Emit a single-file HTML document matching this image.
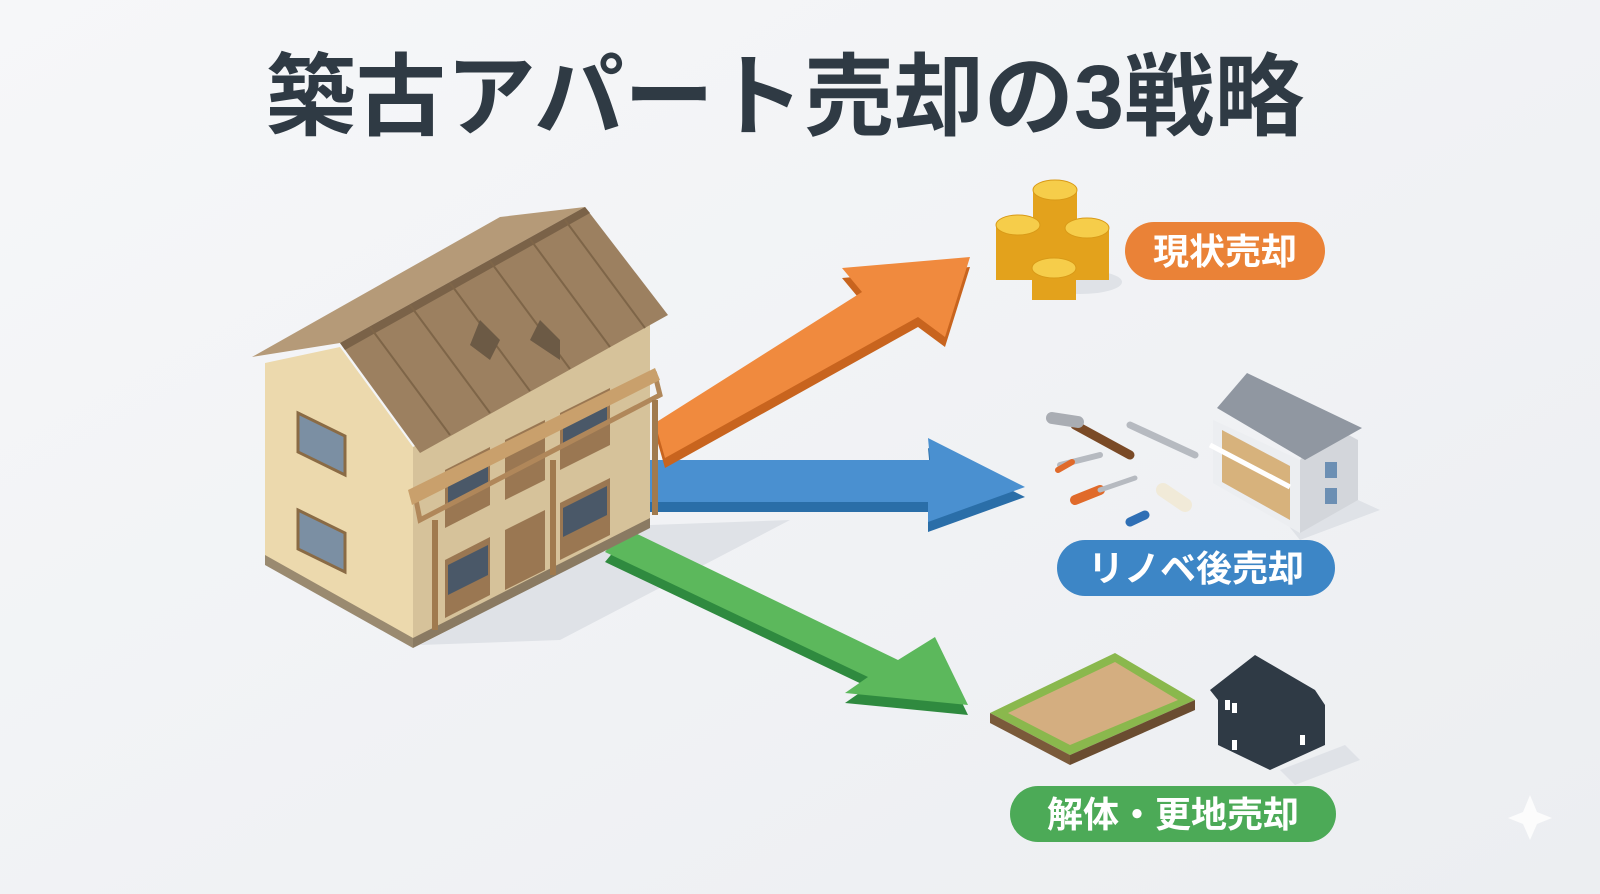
<!DOCTYPE html>
<html><head><meta charset="utf-8"><style>
html,body{margin:0;padding:0;width:1600px;height:894px;overflow:hidden;background:#f1f2f4;}
svg{position:absolute;left:0;top:0}
</style></head><body>
<svg width="1600" height="894" viewBox="0 0 1600 894" xmlns="http://www.w3.org/2000/svg">
<defs>
<linearGradient id="bg" x1="0" y1="0" x2="1" y2="1"><stop offset="0" stop-color="#f6f7f9"/><stop offset="1" stop-color="#eceef1"/></linearGradient>
<polygon id="ga" points="625,528 898,660 935,637 968,705 845,693 868,677 605,552"/>
<polygon id="ba" points="650,460 930,460 928,438 1025,487 928,522 928,502 650,502"/>
<polygon id="oa" points="655,423 862,292 842,268 970,257 945,337 918,317 665,458"/>
</defs>
<rect width="1600" height="894" fill="url(#bg)"/>
<text x="785" y="128" text-anchor="middle" font-family="'Liberation Sans','Noto Sans CJK JP',sans-serif" font-weight="700" font-size="90" fill="#2f3a44">築古アパート売却の3戦略</text>

<!-- shadows -->
<polygon points="420,645 650,525 790,520 560,640" fill="#dfe2e7"/>
<!-- green arrow -->
<use href="#ga" transform="translate(0,10)" fill="#2f8a3f"/>
<use href="#ga" fill="#5cb85c"/>
<!-- blue arrow -->
<use href="#ba" transform="translate(0,10)" fill="#2a6ea8"/>
<use href="#ba" fill="#4a90d0"/>
<!-- orange arrow -->
<use href="#oa" transform="translate(0,10)" fill="#c8641e"/>
<use href="#oa" fill="#f08a3e"/>

<!-- house -->
<polygon points="265,560 413,643 413,447 340,347 265,363" fill="#ecd9ad"/>
<polygon points="413,643 650,523 650,323 413,447" fill="#d6c29a"/>
<polygon points="265,555 413,638 413,648 265,565" fill="#9a8a70"/>
<polygon points="413,638 650,518 650,528 413,648" fill="#8a7a62"/>
<polygon points="298,413 345,436 345,475 298,452" fill="#7b8fa3" stroke="#8a6b45" stroke-width="3"/>
<polygon points="298,510 345,533 345,572 298,549" fill="#7b8fa3" stroke="#8a6b45" stroke-width="3"/>
<polygon points="445,470 490,447 490,505 445,528" fill="#9a7752"/>
<polygon points="505,440 545,420 545,480 505,500" fill="#9a7752"/>
<polygon points="560,413 610,388 610,445 560,470" fill="#9a7752"/>
<polygon points="445,560 490,537 490,595 445,618" fill="#9a7752"/>
<polygon points="505,530 545,510 545,570 505,590" fill="#9a7752"/>
<polygon points="560,503 610,478 610,535 560,560" fill="#9a7752"/>
<polygon points="448,475 488,455 488,485 448,505" fill="#4a5868"/>
<polygon points="563,418 607,396 607,425 563,447" fill="#4a5868"/>
<polygon points="448,565 488,545 488,575 448,595" fill="#4a5868"/>
<polygon points="563,508 607,486 607,515 563,537" fill="#4a5868"/>
<polygon points="415,495 655,375 660,395 420,520" fill="none" stroke="#b0875a" stroke-width="5"/>
<polygon points="408,490 655,368 660,380 412,505" fill="#c9a06c"/>
<line x1="435" y1="520" x2="435" y2="630" stroke="#a07a4e" stroke-width="6"/>
<line x1="553" y1="460" x2="553" y2="575" stroke="#a07a4e" stroke-width="6"/>
<line x1="655" y1="400" x2="655" y2="515" stroke="#a07a4e" stroke-width="6"/>
<polygon points="252,357 500,217 585,207 340,343" fill="#b59a78"/>
<polygon points="340,343 585,207 668,315 420,453" fill="#9c8060"/>
<polygon points="340,343 585,207 590,213 345,350" fill="#7a6248"/>
<g stroke="#7e6548" stroke-width="2">
<line x1="370" y1="327" x2="450" y2="435"/><line x1="410" y1="305" x2="490" y2="413"/><line x1="450" y1="283" x2="530" y2="391"/><line x1="490" y1="261" x2="570" y2="369"/><line x1="530" y1="239" x2="610" y2="347"/><line x1="565" y1="220" x2="645" y2="328"/>
</g>
<polygon points="480,320 500,340 490,360 470,345" fill="#6c5a45"/>
<polygon points="540,320 560,340 560,360 530,340" fill="#6c5a45"/>

<!-- coins -->
<g>
<ellipse cx="1080" cy="282" rx="42" ry="12" fill="#dfe2e7"/>
<rect x="1033" y="190" width="44" height="80" fill="#e3a21c"/>
<ellipse cx="1055" cy="190" rx="22" ry="10" fill="#f6cd4a" stroke="#d99a18"/>
<rect x="996" y="225" width="44" height="55" fill="#e3a21c"/>
<ellipse cx="1018" cy="225" rx="22" ry="10" fill="#f6cd4a" stroke="#d99a18"/>
<rect x="1065" y="228" width="44" height="52" fill="#e3a21c"/>
<ellipse cx="1087" cy="228" rx="22" ry="10" fill="#f6cd4a" stroke="#d99a18"/>
<rect x="1032" y="268" width="44" height="32" fill="#e3a21c"/>
<ellipse cx="1054" cy="268" rx="22" ry="10" fill="#f6cd4a" stroke="#d99a18"/>
</g>
<rect x="1125" y="222" width="200" height="58" rx="29" fill="#ea8237"/>
<text x="1225" y="264" text-anchor="middle" font-family="'Liberation Sans','Noto Sans CJK JP',sans-serif" font-weight="700" font-size="36" fill="#fff">現状売却</text>

<!-- tools -->
<g stroke-linecap="round">
<line x1="1075" y1="425" x2="1130" y2="455" stroke="#7a4a26" stroke-width="9"/>
<line x1="1052" y1="418" x2="1078" y2="422" stroke="#a9adb3" stroke-width="12"/>
<line x1="1130" y1="425" x2="1195" y2="455" stroke="#b6bac0" stroke-width="7"/>
<line x1="1060" y1="465" x2="1100" y2="455" stroke="#b6bac0" stroke-width="6"/>
<line x1="1058" y1="470" x2="1072" y2="462" stroke="#e06a2a" stroke-width="6"/>
<line x1="1075" y1="500" x2="1100" y2="490" stroke="#e06a2a" stroke-width="10"/>
<line x1="1100" y1="490" x2="1135" y2="478" stroke="#b6bac0" stroke-width="5"/>
<line x1="1130" y1="522" x2="1145" y2="515" stroke="#2f6fb5" stroke-width="9"/>
<line x1="1163" y1="490" x2="1185" y2="505" stroke="#f1ead8" stroke-width="14"/>
</g>
<!-- renovated house -->
<polygon points="1280,515 1358,500 1380,510 1300,540" fill="#dfe2e7"/>
<polygon points="1213,420 1300,460 1300,533 1213,483" fill="#eceef1"/>
<polygon points="1300,460 1330,425 1358,440 1358,500 1300,533" fill="#d3d6db"/>
<polygon points="1247,373 1362,428 1305,460 1217,408" fill="#9097a1"/>
<polygon points="1222,430 1290,466 1290,520 1222,482" fill="#d3a767" opacity=".85"/>
<polyline points="1210,445 1290,487" stroke="#fff" stroke-width="5" fill="none"/>
<rect x="1325" y="462" width="12" height="16" fill="#6c8fb3"/>
<rect x="1325" y="488" width="12" height="16" fill="#6c8fb3"/>
<rect x="1057" y="540" width="278" height="56" rx="28" fill="#3d86c6"/>
<text x="1196" y="581" text-anchor="middle" font-family="'Liberation Sans','Noto Sans CJK JP',sans-serif" font-weight="700" font-size="36" fill="#fff">リノベ後売却</text>

<!-- land -->
<polygon points="990,713 1115,653 1195,700 1070,755" fill="#8ab84d"/>
<polygon points="1008,713 1115,662 1178,700 1070,745" fill="#d4ae80"/>
<polygon points="990,713 1070,755 1070,765 990,723" fill="#7a5a3a"/>
<polygon points="1070,755 1195,700 1195,710 1070,765" fill="#6a4c30"/>
<!-- dark house -->
<polygon points="1280,770 1345,745 1360,760 1295,785" fill="#dfe2e7"/>
<polygon points="1210,690 1255,655 1315,690 1325,705 1325,745 1270,770 1218,745 1218,700" fill="#2f3a45"/>
<rect x="1225" y="700" width="5" height="10" fill="#fff"/><rect x="1232" y="703" width="5" height="10" fill="#fff"/>
<rect x="1232" y="740" width="5" height="10" fill="#fff"/><rect x="1300" y="735" width="5" height="10" fill="#fff"/>
<rect x="1010" y="786" width="326" height="56" rx="28" fill="#4caa57"/>
<text x="1173" y="827" text-anchor="middle" font-family="'Liberation Sans','Noto Sans CJK JP',sans-serif" font-weight="700" font-size="36" fill="#fff">解体・更地売却</text>
<polygon points="1530,795 1537,812 1552,818 1537,824 1530,840 1523,824 1508,818 1523,812" fill="#fff" opacity=".8"/>
</svg>
</body></html>
